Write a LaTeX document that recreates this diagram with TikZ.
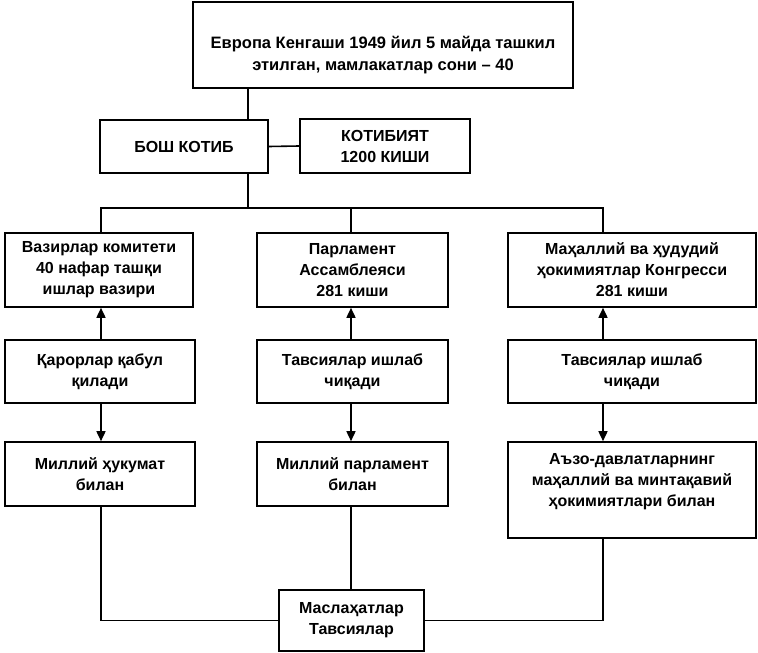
\documentclass[tikz,border=0pt]{standalone}
\usepackage{fontspec}
\setmainfont{Liberation Sans}
\usetikzlibrary{arrows.meta}
\begin{document}
\begin{tikzpicture}[x=1pt,y=-1pt,
  box/.style={draw,line width=1.6pt,rectangle,inner sep=2pt,align=center,
    font=\bfseries\fontsize{16}{21}\selectfont},
  conn/.style={line width=1.6pt},
  arr/.style={line width=1.6pt,-{Triangle[length=10pt,width=9pt]}}]
\useasboundingbox (0,0) rectangle (758,653);
\node[box,minimum width=380pt,minimum height=86pt,font=\bfseries\fontsize{16.5}{22}\selectfont] (top) at (383,45)
  {\rule{0pt}{33pt}Европа Кенгаши 1949 йил 5 майда ташкил\\этилган, мамлакатлар сони -- 40};
\node[box,minimum width=168pt,minimum height=53pt] (bosh) at (184,146.5) {БОШ КОТИБ};
\node[box,minimum width=170pt,minimum height=54pt] (kotib) at (385,146) {КОТИБИЯТ\\1200 КИШИ};
\node[box,minimum width=188pt,minimum height=74pt] (r1a) at (99,270) {Вазирлар комитети\\40 нафар ташқи\\ишлар вазири};
\node[box,minimum width=191pt,minimum height=74pt] (r1b) at (352.5,270) {Парламент\\Ассамблеяси\\281 киши};
\node[box,minimum width=248pt,minimum height=74pt] (r1c) at (632,270) {Маҳаллий ва ҳудудий\\ҳокимиятлар Конгресси\\281 киши};
\node[box,minimum width=190pt,minimum height=63pt] (r2a) at (100,371.5) {Қарорлар қабул\\қилади};
\node[box,minimum width=191pt,minimum height=63pt] (r2b) at (352.5,371.5) {Тавсиялар ишлаб\\чиқади};
\node[box,minimum width=248pt,minimum height=63pt] (r2c) at (632,371.5) {Тавсиялар ишлаб\\чиқади};
\node[box,minimum width=190pt,minimum height=64pt] (r3a) at (100,474) {Миллий ҳукумат\\билан};
\node[box,minimum width=191pt,minimum height=64pt] (r3b) at (352.5,474) {Миллий парламент\\билан};
\node[box,minimum width=248pt,minimum height=96pt] (r3c) at (632,490) {Аъзо-давлатларнинг\\маҳаллий ва минтақавий\\ҳокимиятлари билан\\[0pt]\mbox{}};
\node[box,minimum width=145pt,minimum height=61pt] (bot) at (351.5,620.5) {Маслаҳатлар\\Тавсиялар};
\coordinate (j) at (248,0);
\coordinate (bus) at (0,208);
\coordinate (xa) at (101,0);
\coordinate (xb) at (351,0);
\coordinate (xc) at (603,0);
\draw[conn] (j |- top.south) -- (j |- bosh.north);
\draw[conn] (j |- bosh.south) -- (j |- bus);
\draw[conn] (bosh.east) -- (kotib.west);
\draw[conn] (xa |- r1a.north) -- (xa |- bus) -- (xc |- bus) -- (xc |- r1c.north);
\draw[conn] (xb |- r1b.north) -- (xb |- bus);
\draw[arr] (xa |- r2a.north) -- (xa |- r1a.south);
\draw[arr] (xb |- r2b.north) -- (xb |- r1b.south);
\draw[arr] (xc |- r2c.north) -- (xc |- r1c.south);
\draw[arr] (xa |- r2a.south) -- (xa |- r3a.north);
\draw[arr] (xb |- r2b.south) -- (xb |- r3b.north);
\draw[arr] (xc |- r2c.south) -- (xc |- r3c.north);
\draw[conn] (xa |- r3a.south) -- (xa |- bot.west) -- (bot.west);
\draw[conn] (xc |- r3c.south) -- (xc |- bot.east) -- (bot.east);
\draw[conn] (xb |- r3b.south) -- (xb |- bot.north);
\end{tikzpicture}
\end{document}
